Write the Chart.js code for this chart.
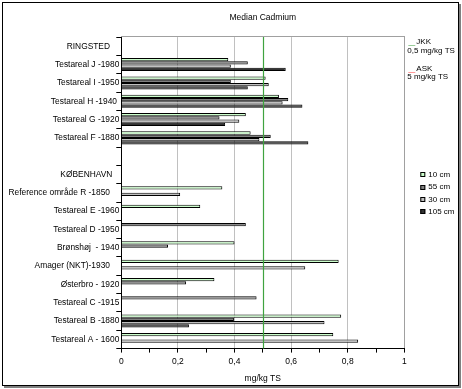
<!DOCTYPE html>
<html>
<head>
<meta charset="utf-8">
<script src="https://cdn.jsdelivr.net/npm/chart.js@4.4.1/dist/chart.umd.min.js"></script>
<style>
  html, body { margin: 0; padding: 0; background: #fff; }
</style>
</head>
<body>
<canvas id="grafico" width="462" height="389"></canvas>
<script>
// Datos (mg/kg TS)
const titulo = 'Median Cadmium';
const tituloEje = 'mg/kg TS';
const categorias = [
  'RINGSTED    ', 'Testareal J -1980', 'Testareal I -1950', 'Testareal H -1940 ',
  'Testareal G -1920', 'Testareal F -1880', '', 'KØBENHAVN   ',
  'Reference område R -1850    ', 'Testareal E -1960', 'Testareal D -1950',
  'Brønshøj  - 1940', 'Amager (NKT)-1930    ', 'Østerbro - 1920',
  'Testareal C -1915', 'Testareal B -1880', 'Testareal A - 1600'
];
const series = ['10 cm', '55 cm', '30 cm', '105 cm'];
const cm10 = [null, 0.378, 0.51, 0.557, 0.44, 0.457, null, null, 0.357, 0.279, 0.44, 0.40, 0.768, 0.329, 0.478, 0.777, 0.749];
const cm55 = [null, 0.447, 0.387, 0.59, 0.347, 0.528, null, null, null, null, null, 0.165, null, 0.229, null, 0.398, null];
const cm30 = [null, 0.387, 0.521, 0.57, 0.417, 0.488, null, null, 0.208, null, null, null, 0.65, null, null, 0.718, 0.837];
const cm105 = [null, 0.581, 0.447, 0.64, 0.367, 0.661, null, null, null, null, null, null, null, null, null, 0.239, null];
const xEtiquetas = ['0', '0,2', '0,4', '0,6', '0,8', '1'];
const jkk = 0.5;   // grænseværdi JKK
const ask = 5;     // grænseværdi ASK (uden for skalaen)

const colores = ['#ccffcc', '#808080', '#c0c0c0', '#333333'];
// D og C er tegnet grå i originalen
const grisEn10 = ['Testareal D -1950', 'Testareal C -1915'];
const fuente = 'Liberation Sans, Arial, sans-serif';

// marco, línea JKK y leyenda
const extras = {
  id: 'extras',
  beforeDraw(chart) {
    const { ctx, chartArea: a } = chart;
    ctx.save();
    ctx.fillStyle = '#fff';
    ctx.fillRect(0, 0, chart.width, chart.height);
    ctx.strokeStyle = '#808080';
    ctx.lineWidth = 2;
    ctx.beginPath();
    ctx.moveTo(4, 387); ctx.lineTo(460, 387); ctx.lineTo(460, 4);
    ctx.stroke();
    ctx.strokeStyle = '#000';
    ctx.lineWidth = 1;
    ctx.strokeRect(2.5, 2.5, 456, 383);
    ctx.strokeStyle = '#a0a0a0';
    ctx.strokeRect(Math.round(a.left) + 0.5, Math.round(a.top) - 0.5, Math.round(a.right - a.left), Math.round(a.bottom - a.top));
    ctx.restore();
  },
  afterDatasetsDraw(chart) {
    const { ctx, chartArea: a, scales } = chart;
    const x = Math.round(scales.x.getPixelForValue(jkk)) + 0.5;
    ctx.save();
    ctx.strokeStyle = '#3fa33f';
    ctx.lineWidth = 1.2;
    ctx.beginPath();
    ctx.moveTo(x, a.top);
    ctx.lineTo(x, a.bottom);
    ctx.stroke();
    ctx.restore();
  },
  afterDraw(chart) {
    const { ctx, chartArea: a } = chart;
    const x0 = a.right;
    ctx.save();
    ctx.font = '8px ' + fuente;
    ctx.fillStyle = '#000';
    ctx.textBaseline = 'middle';
    ctx.textAlign = 'left';
    // JKK / ASK
    ctx.lineWidth = 1;
    ctx.strokeStyle = '#99cc99';
    ctx.beginPath(); ctx.moveTo(x0 + 4, 45.5); ctx.lineTo(x0 + 11, 45.5); ctx.stroke();
    ctx.strokeStyle = '#ff9999';
    ctx.beginPath(); ctx.moveTo(x0 + 4, 72.5); ctx.lineTo(x0 + 11, 72.5); ctx.stroke();
    ctx.fillText('JKK', x0 + 12, 42);
    ctx.fillText(String(jkk).replace('.', ',') + ' mg/kg TS', x0 + 3, 51);
    ctx.fillText('ASK', x0 + 12, 69);
    ctx.fillText(ask + ' mg/kg TS', x0 + 3, 77);
    // leyenda de series
    const mid = (a.top + a.bottom) / 2;
    chart.data.datasets.forEach((ds, i) => {
      const y = mid + (i - 1.5) * 12.4;
      ctx.fillStyle = colores[i];
      ctx.fillRect(x0 + 16, Math.round(y) - 2, 5, 5);
      ctx.strokeStyle = '#000';
      ctx.strokeRect(x0 + 16.5, Math.round(y) - 1.5, 4, 4);
      ctx.fillStyle = '#000';
      ctx.fillText(ds.label, x0 + 24, y + 0.5);
    });
    ctx.restore();
  }
};

const ctx = document.getElementById('grafico').getContext('2d');
new Chart(ctx, {
  type: 'bar',
  data: {
    labels: categorias,
    datasets: [cm10, cm55, cm30, cm105].map((d, i) => ({
      label: series[i],
      data: d,
      backgroundColor: i === 0
        ? categorias.map(c => grisEn10.includes(c) ? '#8c8c8c' : colores[0])
        : colores[i],
      borderColor: '#000',
      borderWidth: 1,
      barPercentage: 1,
      categoryPercentage: 0.71
    }))
  },
  options: {
    indexAxis: 'y',
    responsive: false,
    animation: false,
    layout: { padding: { left: 4, right: 57.7, top: 0, bottom: 0 } },
    plugins: {
      legend: { display: false },
      tooltip: { enabled: false },
      title: {
        display: true,
        text: titulo,
        fullSize: false,
        color: '#000',
        font: { family: fuente, size: 8.5, weight: 'normal' },
        padding: { top: 12.2, bottom: 14.7 }
      }
    },
    scales: {
      x: {
        min: 0,
        max: 1,
        border: { color: '#000' },
        grid: {
          color: c => {
            const k = Math.round(c.tick.value * 10);
            return (k % 2 === 0 && k > 0 && k < 10) ? '#c0c0c0' : 'rgba(0,0,0,0)';
          },
          tickColor: '#000',
          tickLength: 4
        },
        ticks: {
          stepSize: 0.1,
          autoSkip: false,
          maxRotation: 0,
          color: '#000',
          font: { family: fuente, size: 8.5 },
          padding: 4,
          callback: v => {
            const k = Math.round(v * 10);
            return k % 2 ? '' : xEtiquetas[k / 2];
          }
        },
        title: {
          display: true,
          text: tituloEje,
          color: '#000',
          font: { family: fuente, size: 8.5 },
          padding: { top: 0, bottom: 5.5 }
        },
        afterFit(s) { s.height = 40.4; }
      },
      y: {
        border: { color: '#000' },
        grid: { drawOnChartArea: false, offset: true, tickLength: 5, tickColor: '#000' },
        ticks: {
          autoSkip: false,
          color: '#000',
          font: { family: fuente, size: 8.4 },
          padding: -3
        },
        afterFit(s) { s.width = 117.3; }
      }
    }
  },
  plugins: [extras]
});
</script>
</body>
</html>
